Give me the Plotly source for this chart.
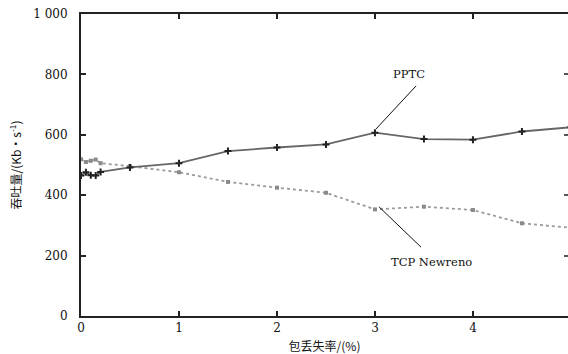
import plotly.graph_objects as go

# Packet loss rate (%) and throughput (Kb/s)
loss_rate = [0, 0.05, 0.1, 0.15, 0.2, 0.5, 1, 1.5, 2, 2.5, 3, 3.5, 4, 4.5, 5]
pptc = [465, 476, 466, 465, 477, 492, 506, 546, 558, 568, 607, 586, 584, 611, 625]
tcp_newreno = [519, 510, 514, 518, 506, 496, 476, 444, 425, 408, 353, 362, 351, 307, 292]

x_ticks = [0, 1, 2, 3, 4, 5]
y_ticks = [0, 200, 400, 600, 800, 1000]
y_tick_text = ["0", "200", "400", "600", "800", "1 000"]

serif = "DejaVu Serif"
cjk = "Noto Sans CJK SC"

fig = go.Figure()

fig.add_trace(go.Scatter(
    x=loss_rate, y=tcp_newreno, mode="lines+markers", name="TCP Newreno",
    line=dict(color="#9a9a9a", width=1.8, dash="dot"),
    marker=dict(symbol="square", size=4, color="#8a8a8a"),
))
fig.add_trace(go.Scatter(
    x=loss_rate, y=pptc, mode="lines+markers", name="PPTC",
    line=dict(color="#666666", width=1.8),
    marker=dict(symbol="cross-thin", size=5, color="#222222",
                line=dict(width=2, color="#222222")),
))

# right-hand frame ticks
fig.add_trace(go.Scatter(x=[None], y=[None], yaxis="y2", showlegend=False))

# leader lines for the series labels
fig.add_shape(type="line", x0=3.42, y0=762, x1=3.01, y1=619,
              line=dict(color="#111111", width=1))
fig.add_shape(type="line", x0=3.47, y0=228, x1=3.04, y1=362,
              line=dict(color="#111111", width=1))

fig.add_annotation(x=3.35, y=801, text="PPTC", showarrow=False,
                   font=dict(family=serif, size=11.5, color="#111111"))
fig.add_annotation(x=3.58, y=178, text="TCP Newreno", showarrow=False,
                   font=dict(family=serif, size=11.5, color="#111111"))

fig.update_layout(
    width=568, height=354,
    margin=dict(l=81, r=0, t=14, b=38),
    paper_bgcolor="white", plot_bgcolor="white",
    font=dict(family=serif, size=12, color="#111111"),
    showlegend=False,
    xaxis=dict(
        range=[0, 4.97], tickvals=x_ticks, ticktext=[str(v) for v in x_ticks],
        ticks="inside", ticklen=5, tickwidth=2, tickcolor="#222222",
        showline=True, linewidth=2, linecolor="#222222", mirror="ticks",
        showgrid=False, zeroline=False,
        tickfont=dict(family=serif, size=12, color="#111111"),
        title=dict(text="包丢失率/(%)", font=dict(family=cjk, size=12, color="#111111"),
                   standoff=9),
    ),
    yaxis=dict(
        range=[0, 1000], tickvals=y_ticks, ticktext=y_tick_text,
        ticks="inside", ticklen=5, tickwidth=2, tickcolor="#222222",
        showline=True, linewidth=2, linecolor="#222222",
        showgrid=False, zeroline=False, ticklabelstandoff=9,
        tickfont=dict(family=serif, size=12, color="#111111"),
        title=dict(text="吞吐量/(Kb·s<sup>-1</sup>)",
                   font=dict(family=cjk, size=12, color="#111111"), standoff=9),
    ),
    yaxis2=dict(
        range=[0, 1000], tickvals=y_ticks, overlaying="y", side="right",
        ticks="inside", ticklen=4, tickwidth=2, tickcolor="#555555",
        showticklabels=False, showline=False, showgrid=False, zeroline=False,
    ),
)

fig.write_html("out.html")
